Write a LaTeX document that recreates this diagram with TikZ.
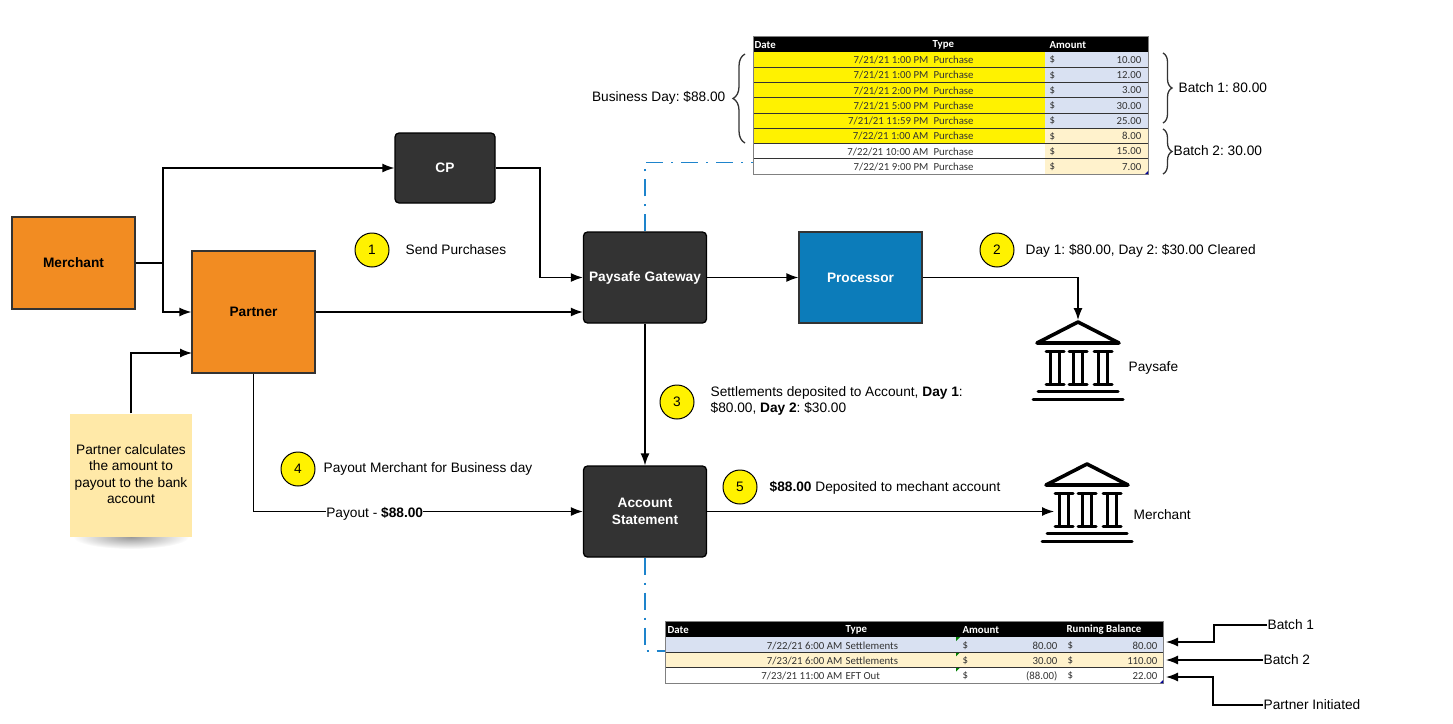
\documentclass[tikz,border=0pt]{standalone}
\usepackage{fontspec}
\setmainfont{Liberation Sans}
\newfontfamily\tablefont{Carlito}
\usetikzlibrary{arrows.meta,decorations.pathreplacing,shadings}

\definecolor{boxdark}{HTML}{333333}
\definecolor{boxorange}{HTML}{F28C22}
\definecolor{boxblue}{HTML}{0C7CBA}
\definecolor{noteyellow}{HTML}{FFE9A8}
\definecolor{rowblue}{HTML}{D9E1F2}
\definecolor{rowtan}{HTML}{FFF2CC}
\definecolor{linkblue}{HTML}{1E84CC}

\begin{document}
\frenchspacing
\begin{tikzpicture}[x=1pt,y=-1pt,>={Latex[length=12pt,width=9pt]},line width=1.3pt]
  \tikzstyle{every node}=[font=\fontsize{13.7}{16.5}\selectfont,inner sep=0pt]
  \tikzstyle{dark box}=[draw=black,fill=boxdark,rounded corners=4pt,text=white,
    font=\fontsize{13.7}{16.5}\selectfont\bfseries,minimum width=123pt,minimum height=91pt,align=center]
  \tikzstyle{orange box}=[draw=boxdark,fill=boxorange,font=\fontsize{13.7}{16.5}\selectfont\bfseries,align=center]
  \tikzstyle{step mark}=[circle,draw=black,fill=yellow,minimum size=34pt,line width=1pt]
  \tikzstyle{note text}=[anchor=west,align=left]
  \tikzstyle{dash link}=[draw=linkblue,line width=1.4pt,dash pattern=on 17pt off 8pt on 2pt off 8pt]
  \tikzstyle{cell}=[font=\fontsize{10.8}{12}\selectfont\tablefont,text=boxdark]
  \tikzstyle{head}=[font=\fontsize{10.8}{12}\selectfont\tablefont\bfseries,text=white,anchor=west]
  \tikzstyle{curly}=[draw=boxdark,line width=1.3pt,decorate]
  \tikzset{bank/.pic={
    \draw[line width=3.6pt,line join=round] (-41,23) -- (0,2) -- (41,23) -- cycle;
    \foreach \x in {-23,0,25} {
      \draw[line width=3pt,line cap=round] (\x-9,31) -- (\x+9,31) (\x-9,64) -- (\x+9,64);
      \draw[line width=3.6pt] (\x-4.5,31) -- (\x-4.5,64) (\x+4.5,31) -- (\x+4.5,64);
    }
    \draw[line width=3pt,line cap=round] (-40,71) -- (40,71) (-45,79) -- (45,79);
  }}

  \useasboundingbox (0,0) rectangle (1453,723);

  \node[orange box,minimum width=123pt,minimum height=92pt] (merchant) at (73.5,263) {Merchant};
  \node[orange box,minimum width=123pt,minimum height=122pt] (partner) at (253.5,312) {Partner};
  \node[dark box,minimum width=100pt,minimum height=70pt] (cp) at (445,168) {CP};
  \node[dark box] (gateway) at (645,277.5) {Paysafe Gateway};
  \node[dark box] (statement) at (645,511.5) {Account\\Statement};
  \node[draw=boxdark,fill=boxblue,text=white,font=\fontsize{13.7}{16.5}\selectfont\bfseries,
    minimum width=123pt,minimum height=91pt] (processor) at (860.5,277.5) {Processor};

  % sticky note
  \shade[inner color=black!40,outer color=white] (131,537) ellipse (58 and 12);
  \node[fill=noteyellow,minimum width=122pt,minimum height=123pt,align=center] (note) at (131,475.5)
    {Partner calculates\\the amount to\\payout to the bank\\account\rule[-3pt]{0pt}{0pt}};

  % banks
  \coordinate (bank_p) at (1078,320);
  \coordinate (bank_m) at (1087,462);
  \coordinate (bank_m_in) at (1054,511.5);
  \pic at (bank_p) {bank};
  \pic at (bank_m) {bank};
  \node[note text] (bank_p_text) at (1128,368) {Paysafe};
  \node[note text] (bank_m_text) at (1133,515) {Merchant};

  % connectors
  \coordinate (split) at (163,263);
  \coordinate (note_in) at (192,353);
  \coordinate (table_a) at (753,162.5);
  \coordinate (table_b) at (665,651);
  \draw[->] (merchant.east) -- (split) |- (cp.west);
  \draw[->] (split) |- (partner.west);
  \draw[->] (note.north) |- (note_in);
  \draw[->] (cp.east) -- (540,168) |- (gateway.west);
  \draw[->] (processor.east) -| (bank_p);
  \draw[->] (partner.south) |- (statement.west)
    node[pos=0.684,fill=white,inner xsep=0pt,inner ysep=1pt,yshift=-2pt] (payout) {Payout - \textbf{\$88.00}};
  \path[->]
  (partner) edge (partner -| gateway.west)
  (gateway) edge (processor)
  (gateway) edge (statement)
  (statement) edge (bank_m_in);
  \draw[dash link] (gateway.north) |- (table_a);
  \draw[dash link] (statement.south) |- (table_b);

  % step marks
  \node[step mark] (m_1) at (372,250) {1};
  \node[step mark] (m_2) at (997,250) {2};
  \node[step mark] (m_3) at (677,402) {3};
  \node[step mark] (m_4) at (298,469) {4};
  \node[step mark] (m_5) at (740,487) {5};
  \node[note text] (t_1) at (405,250) {Send Purchases};
  \node[note text] (t_2) at (1025,251) {Day 1: \$80.00, Day 2: \$30.00 Cleared};
  \node[note text] (t_3) at (710,401) {Settlements deposited to Account, \textbf{Day 1}:\\\$80.00, \textbf{Day 2}: \$30.00};
  \node[note text] (t_4) at (323,469) {Payout Merchant for Business day};
  \node[note text] (t_5) at (769,488) {\textbf{\$88.00} Deposited to mechant account};

  % purchases table
  \fill[black] (753,36) rectangle (1148,52);
  \node[head] (h_date) at (754,45) {Date};
  \node[head] (h_type) at (932,45) {Type};
  \node[head] (h_amt) at (1049,45) {Amount};
  \foreach \i/\d/\a/\c/\e in {0/7\slash 21\slash 21 1:00 PM/10.00/yellow/rowblue,
      1/7\slash 21\slash 21 1:00 PM/12.00/yellow/rowblue,
      2/7\slash 21\slash 21 2:00 PM/3.00/yellow/rowblue,
      3/7\slash 21\slash 21 5:00 PM/30.00/yellow/rowblue,
      4/7\slash 21\slash 21 11:59 PM/25.00/yellow/rowblue,
      5/7\slash 22\slash 21 1:00 AM/8.00/yellow/rowtan,
      6/7\slash 22\slash 21 10:00 AM/15.00/white/rowtan,
      7/7\slash 22\slash 21 9:00 PM/7.00/white/rowtan} {
    \fill[\c] (753,52+15.25*\i) rectangle (1045,67.25+15.25*\i);
    \fill[\e] (1045,52+15.25*\i) rectangle (1148,67.25+15.25*\i);
    \node[cell,anchor=east] at (929,60+15.25*\i) {\d};
    \node[cell,anchor=west] at (933,60+15.25*\i) {Purchase};
    \node[cell,anchor=west] at (1049,60+15.25*\i) {\$};
    \node[cell,anchor=east] at (1142,60+15.25*\i) {\a};
  }
  \foreach \i in {1,...,7}
    \draw[boxdark,line width=0.9pt] (753,52+15.25*\i) -- (1148,52+15.25*\i);
  \draw[gray,line width=0.8pt] (753,36) rectangle (1148,174);
  \fill[blue!60!black] (1148,171) -- (1148,174) -- (1145,174) -- cycle;

  % braces
  \draw[curly,decoration={brace,amplitude=12pt,mirror}] (745,54) -- (745,143) node[midway,xshift=-12pt] (b_day) {};
  \draw[curly,decoration={brace,amplitude=9pt}] (1163,53) -- (1163,123) node[midway,xshift=9pt] (b_one) {};
  \draw[curly,decoration={brace,amplitude=9pt}] (1163,129) -- (1163,174) node[midway,xshift=9pt] (b_two) {};
  \node[anchor=east] (l_day) at (726,97.5) {Business Day: \$88.00};
  \node[note text] (l_one) at (1178,87.5) {Batch 1: 80.00};
  \node[note text] (l_two) at (1173,150.5) {Batch 2: 30.00};

  % settlements table
  \fill[black] (665,621) rectangle (1163,637);
  \node[head] (s_date) at (667,630) {Date};
  \node[head] (s_type) at (845,630) {Type};
  \node[head] (s_amt) at (962,630) {Amount};
  \node[head] (s_bal) at (1066,630) {Running Balance};
  \foreach \i/\d/\t/\a/\b/\c in {0/7\slash 22\slash 21 6:00 AM/Settlements/80.00/80.00/rowblue,
      1/7\slash 23\slash 21 6:00 AM/Settlements/30.00/110.00/rowtan,
      2/7\slash 23\slash 21 11:00 AM/EFT Out/(88.00)/22.00/white} {
    \fill[\c] (665,637+15.3*\i) rectangle (1163,652.3+15.3*\i);
    \fill[green!50!black] (956,637+15.3*\i) -- (960,637+15.3*\i) -- (956,641+15.3*\i) -- cycle;
    \node[cell,anchor=east] at (843,645.5+15.3*\i) {\d};
    \node[cell,anchor=west] at (845,645.5+15.3*\i) {\t};
    \node[cell,anchor=west] at (962,645.5+15.3*\i) {\$};
    \node[cell,anchor=east] at (1058,645.5+15.3*\i) {\a};
    \node[cell,anchor=west] at (1067,645.5+15.3*\i) {\$};
    \node[cell,anchor=east] at (1158,645.5+15.3*\i) {\b};
  }
  \foreach \i in {1,2}
    \draw[boxdark,line width=0.9pt] (665,637+15.3*\i) -- (1163,637+15.3*\i);
  \draw[gray,line width=0.8pt] (665,621) rectangle (1163,683);
  \fill[blue!60!black] (1163,680) -- (1163,683) -- (1160,683) -- cycle;

  % batch labels
  \node[anchor=west] (l_b1) at (1267,625) {Batch 1};
  \node[anchor=west] (l_b2) at (1263,660) {Batch 2};
  \node[anchor=west] (l_pi) at (1263,705) {Partner Initiated};
  \coordinate (in_b1) at (1166,642);
  \coordinate (in_b2) at (1166,660);
  \coordinate (in_pi) at (1166,677);
  \draw[->] (l_b1.west) -- (1214,625) |- (in_b1);
  \draw[->] (l_b2.west) -- (in_b2);
  \draw[->] (l_pi.west) -- (1213,705) |- (in_pi);
\end{tikzpicture}
\end{document}
